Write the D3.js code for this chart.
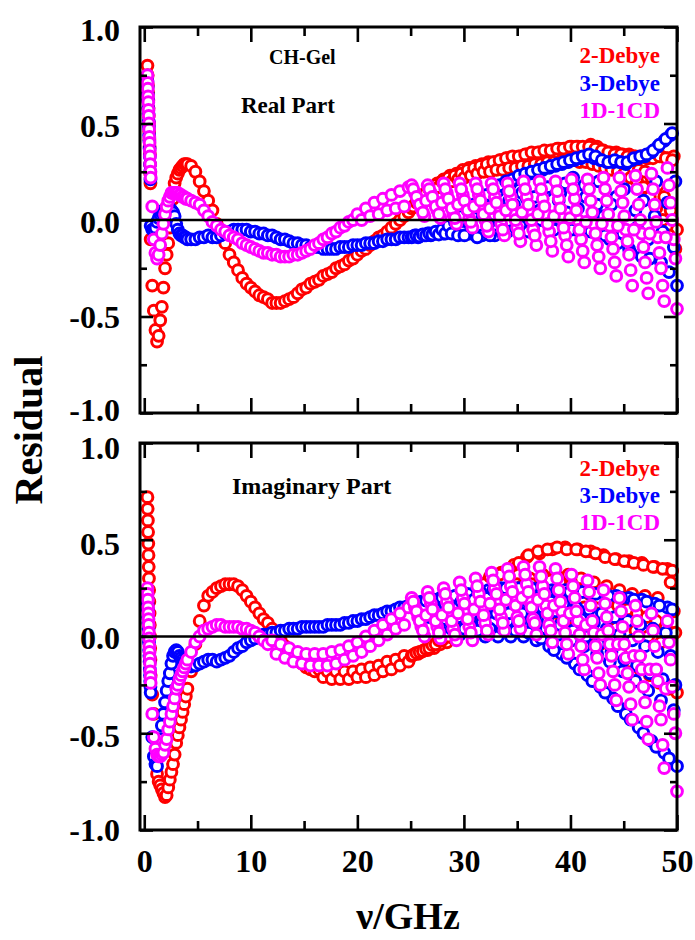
<!DOCTYPE html>
<html><head><meta charset="utf-8">
<script src="https://cdn.jsdelivr.net/npm/d3@7"></script>
<style>body{margin:0;background:#fff}svg{display:block}</style>
</head><body><svg id="c" width="695" height="940"></svg>
<script>
// ---------- DATA ----------
const freq = [
 0.30,0.32,0.34,0.36,0.38,0.40,0.42,0.44,0.46,0.48,0.50,0.52,0.54,0.56,0.58,0.60,
 0.75,0.90,1.05,1.20,1.35,1.50,1.65,1.80,1.95,2.10,2.25,2.40,2.55,2.70,2.85,3.00,3.15,3.30,3.45,3.60,3.75,3.90,4.05,
 4.4,4.8,5.2,5.6,6.0,6.4,6.8,7.2,7.6,8.0,
 8.4,8.8,9.2,9.6,10.0,10.4,10.8,11.2,11.6,12.0,
 12.4,12.8,13.2,13.6,14.0,14.4,14.8,15.2,15.6,16.0,
 16.4,16.8,17.2,17.6,18.0,18.4,18.8,19.2,19.6,20.0,
 20.4,20.8,21.2,21.6,22.0,22.4,22.8,23.2,23.6,24.0,
 24.4,24.8,
 25.1,25.4,25.7,26.0,26.3,26.6,26.9,27.2,27.5,27.8,
 28.1,28.4,28.7,29.0,29.3,29.6,29.9,30.2,30.5,30.8,
 31.1,31.4,31.7,32.0,32.3,32.6,32.9,33.2,33.5,33.8,
 34.1,34.4,34.7,35.0,35.3,35.6,35.9,36.2,36.5,36.8,
 37.1,37.4,37.7,38.0,38.3,38.6,38.9,39.2,39.5,39.8,
 40.1,40.4,40.7,41.0,41.3,41.6,41.9,42.2,42.5,42.8,
 43.1,43.4,43.7,44.0,44.3,44.6,44.9,45.2,45.5,45.8,
 46.1,46.4,46.7,47.0,47.3,47.6,47.9,48.2,48.5,48.8,
 49.1,49.4,49.7,50.0,
 25.25,25.55,25.85,26.15,26.45,26.75,27.05,27.35,27.65,27.95,
 28.25,28.55,28.85,29.15,29.45,29.75,30.05,30.35,30.65,30.95,
 31.25,31.55,31.85,32.15,32.45,32.75,33.05,33.35,33.65,33.95,
 34.25,34.55,34.85,35.15,35.45,35.75,36.05,36.35,36.65,36.95,
 37.25,37.55,37.85,38.15,38.45,38.75,39.05,39.35,39.65,39.95,
 40.25,40.55,40.85,41.15,41.45,41.75,42.05,42.35,42.65,42.95,
 43.25,43.55,43.85,44.15,44.45,44.75,45.05,45.35,45.65,45.95,
 46.25,46.55,46.85,47.15,47.45,47.75,48.05,48.35,48.65,48.95,
 49.25,49.55,49.85
];

// Real part residuals
const realRed = [
 0.80,0.75,0.70,0.66,0.62,0.58,0.54,0.50,0.46,0.42,0.38,0.34,0.29,0.24,0.19,-0.10,
 -0.34,-0.47,-0.57,-0.63,-0.60,-0.52,-0.45,-0.35,-0.25,-0.18,-0.12,-0.04,0.04,0.11,0.19,0.22,0.24,0.26,0.27,0.28,0.29,0.29,0.29,
 0.28,0.25,0.20,0.15,0.10,0.05,-0.02,-0.07,-0.12,-0.18,
 -0.22,-0.26,-0.30,-0.33,-0.35,-0.37,-0.39,-0.40,-0.41,-0.43,
 -0.43,-0.43,-0.42,-0.41,-0.40,-0.38,-0.36,-0.35,-0.33,-0.32,
 -0.31,-0.29,-0.28,-0.27,-0.25,-0.24,-0.23,-0.21,-0.20,-0.18,
 -0.16,-0.15,-0.13,-0.11,-0.09,-0.08,-0.06,-0.04,-0.02,0.00,
 0.02,0.04,
 0.06,0.08,0.10,0.12,0.13,0.15,0.16,0.17,0.19,0.19,
 0.21,0.21,0.23,0.22,0.24,0.23,0.26,0.24,0.27,0.25,
 0.28,0.26,0.29,0.26,0.30,0.27,0.30,0.28,0.31,0.27,
 0.32,0.28,0.32,0.29,0.33,0.29,0.34,0.30,0.34,0.31,
 0.35,0.30,0.35,0.31,0.36,0.32,0.37,0.31,0.37,0.32,
 0.38,0.33,0.38,0.32,0.37,0.33,0.39,0.32,0.38,0.31,
 0.36,0.30,0.35,0.30,0.35,0.29,0.34,0.28,0.34,0.27,
 0.33,0.26,0.33,0.25,0.32,0.22,0.33,0.18,0.33,0.12,
 0.32,0.05,0.33,-0.05,
 0.07,0.09,0.11,0.13,0.14,0.16,0.15,0.18,0.17,0.20,
 0.19,0.22,0.20,0.23,0.21,0.24,0.22,0.26,0.23,0.27,
 0.24,0.28,0.25,0.29,0.25,0.30,0.26,0.31,0.26,0.32,
 0.27,0.33,0.27,0.33,0.28,0.34,0.28,0.35,0.29,0.35,
 0.29,0.36,0.30,0.36,0.30,0.37,0.30,0.37,0.30,0.38,
 0.31,0.38,0.30,0.38,0.30,0.38,0.29,0.37,0.28,0.36,
 0.27,0.35,0.26,0.34,0.25,0.34,0.24,0.33,0.22,0.33,
 0.20,0.33,0.17,0.32,0.12,0.32,0.06,0.33,0.00,0.32,
 -0.08,0.31,-0.15
];
const realBlue = [
 0.72,0.69,0.65,0.62,0.58,0.55,0.51,0.48,0.44,0.41,0.37,0.33,0.29,0.25,0.21,-0.03,
 -0.05,-0.05,-0.04,-0.01,0.01,0.03,0.04,0.05,0.05,0.06,0.06,0.06,0.05,0.04,0.02,-0.02,-0.05,-0.07,-0.08,-0.08,-0.09,-0.09,-0.10,
 -0.10,-0.10,-0.09,-0.09,-0.08,-0.09,-0.09,-0.08,-0.07,-0.06,
 -0.05,-0.05,-0.05,-0.05,-0.06,-0.06,-0.07,-0.07,-0.08,-0.08,
 -0.09,-0.10,-0.10,-0.11,-0.12,-0.12,-0.13,-0.13,-0.14,-0.14,
 -0.14,-0.15,-0.15,-0.15,-0.15,-0.14,-0.14,-0.14,-0.13,-0.13,
 -0.13,-0.12,-0.12,-0.12,-0.11,-0.11,-0.10,-0.10,-0.10,-0.09,
 -0.09,-0.09,
 -0.09,-0.08,-0.09,-0.08,-0.08,-0.07,-0.08,-0.07,-0.07,-0.06,
 -0.07,-0.05,-0.06,-0.04,-0.06,-0.02,-0.06,0.00,-0.07,0.03,
 -0.08,0.06,-0.08,0.09,-0.02,0.12,-0.08,0.15,0.04,0.17,
 -0.06,0.19,0.08,0.21,-0.03,0.22,0.11,0.24,-0.05,0.25,
 0.05,0.26,0.15,0.27,-0.04,0.28,0.10,0.29,0.19,0.30,
 -0.05,0.31,0.06,0.32,0.18,0.33,-0.06,0.32,0.08,0.31,
 0.02,0.30,-0.10,0.30,0.12,0.30,-0.07,0.29,-0.15,0.31,
 0.05,0.32,-0.19,0.33,-0.10,0.35,0.02,0.38,-0.22,0.41,
 0.09,0.44,-0.14,-0.34,
 -0.085,-0.08,-0.085,-0.075,-0.08,-0.07,-0.075,-0.06,-0.075,-0.05,
 -0.07,-0.03,-0.07,-0.01,-0.08,0.02,-0.08,0.05,-0.02,0.08,
 -0.09,0.11,0.02,0.13,-0.08,0.16,0.07,0.18,-0.07,0.20,
 0.10,0.21,-0.04,0.23,0.14,0.24,-0.06,0.25,0.12,0.26,
 0.00,0.27,0.17,0.28,-0.05,0.29,0.14,0.30,0.04,0.31,
 0.22,0.32,-0.06,0.33,0.12,0.34,0.00,0.33,0.20,0.31,
 -0.08,0.30,0.08,0.31,-0.12,0.30,0.16,0.30,-0.17,0.32,
 -0.04,0.33,0.10,0.34,-0.20,0.36,0.20,0.39,-0.06,0.42,
 -0.27,0.45,0.20
];
const realMag = [
 0.75,0.71,0.68,0.64,0.61,0.57,0.54,0.50,0.47,0.43,0.40,0.36,0.33,0.29,0.25,0.22,
 0.07,-0.10,-0.17,-0.20,-0.18,-0.13,-0.07,-0.02,0.03,0.07,0.10,0.12,0.14,0.14,0.14,0.14,0.14,0.13,0.13,0.12,0.12,0.11,0.11,
 0.10,0.09,0.08,0.05,0.02,-0.01,-0.03,-0.05,-0.06,-0.08,
 -0.09,-0.10,-0.12,-0.13,-0.14,-0.15,-0.16,-0.17,-0.17,-0.18,
 -0.18,-0.19,-0.19,-0.19,-0.18,-0.18,-0.17,-0.16,-0.15,-0.13,
 -0.12,-0.10,-0.09,-0.07,-0.06,-0.04,-0.03,-0.01,0.00,0.03,
 0.00,0.06,0.02,0.09,0.03,0.11,0.05,0.13,0.06,0.15,
 0.07,0.17,
 0.18,0.14,0.10,0.06,0.02,0.18,0.14,0.10,0.05,0.01,
 0.19,0.14,0.09,0.03,-0.02,0.19,0.13,0.07,0.01,-0.04,
 0.19,0.13,0.06,0.00,-0.06,0.19,0.12,0.05,-0.02,-0.08,
 0.19,0.12,0.04,-0.04,-0.11,0.20,0.12,0.04,-0.05,-0.13,
 0.20,0.11,0.03,-0.06,-0.16,0.20,0.11,0.01,-0.08,-0.19,
 0.21,0.11,0.00,-0.10,-0.22,0.21,0.10,-0.02,-0.13,-0.25,
 0.22,0.10,-0.03,-0.15,-0.29,0.22,0.09,-0.05,-0.18,-0.34,
 0.23,0.08,-0.07,-0.22,-0.38,0.24,0.08,-0.09,-0.25,-0.42,
 0.27,0.09,-0.10,-0.46,
 0.16,0.12,0.08,0.04,0.10,0.16,0.12,0.07,0.03,0.09,
 0.16,0.11,0.06,0.01,0.08,0.16,0.10,0.05,-0.01,0.07,
 0.16,0.10,0.03,-0.03,0.06,0.16,0.09,0.02,-0.05,0.05,
 0.15,0.08,0.00,-0.07,0.04,0.16,0.08,0.00,-0.08,0.03,
 0.16,0.07,-0.02,-0.11,0.02,0.15,0.06,-0.04,-0.13,0.01,
 0.16,0.05,-0.05,-0.16,-0.01,0.16,0.04,-0.07,-0.19,-0.02,
 0.16,0.03,-0.09,-0.22,-0.03,0.15,0.02,-0.11,-0.26,-0.05,
 0.16,0.00,-0.14,-0.30,-0.07,0.16,-0.01,-0.17,-0.34,-0.09,
 0.18,0.00,-0.20
];

// Imaginary part residuals
const imagRed = [
 0.72,0.66,0.60,0.54,0.48,0.42,0.36,0.30,0.24,0.18,0.12,0.06,0.00,-0.06,-0.12,-0.20,
 -0.30,-0.40,-0.62,-0.71,-0.75,-0.77,-0.79,-0.81,-0.83,-0.82,-0.78,-0.74,-0.70,-0.66,-0.61,-0.55,-0.51,-0.47,-0.43,-0.39,-0.35,-0.31,-0.27,
 -0.18,-0.04,0.08,0.16,0.21,0.23,0.25,0.26,0.27,0.27,
 0.27,0.26,0.24,0.21,0.18,0.15,0.12,0.09,0.07,0.04,
 0.01,-0.02,-0.05,-0.08,-0.10,-0.12,-0.14,-0.16,-0.17,-0.18,
 -0.17,-0.21,-0.18,-0.22,-0.18,-0.22,-0.18,-0.22,-0.18,-0.21,
 -0.17,-0.21,-0.16,-0.20,-0.15,-0.18,-0.13,-0.17,-0.12,-0.15,
 -0.10,-0.13,
 -0.10,-0.09,-0.09,-0.08,-0.07,-0.07,-0.05,-0.06,-0.03,-0.04,
 0.00,-0.03,0.04,-0.01,0.08,0.01,0.13,0.06,0.18,0.03,
 0.22,0.10,0.26,0.06,0.29,0.20,0.13,0.08,0.33,0.24,
 0.15,0.09,0.37,0.27,0.18,0.11,0.41,0.30,0.20,0.12,
 0.43,0.32,0.21,0.11,0.45,0.33,0.21,0.09,0.46,0.32,
 0.19,0.05,0.45,0.30,0.15,0.00,0.44,0.28,0.12,-0.04,
 0.42,0.26,0.09,-0.08,0.40,0.24,0.06,-0.12,0.39,0.22,
 0.03,-0.16,0.38,0.21,0.00,-0.20,0.36,0.20,-0.03,-0.24,
 0.35,0.28,0.13,-0.29,
 -0.095,-0.085,-0.08,-0.075,-0.065,-0.06,-0.045,-0.04,-0.02,-0.02,
 0.02,0.00,0.06,0.02,0.10,0.04,0.15,0.08,0.20,0.12,
 0.24,0.16,0.27,0.18,0.31,0.17,0.11,0.32,0.20,0.12,
 0.35,0.23,0.14,0.38,0.26,0.15,0.42,0.27,0.16,0.44,
 0.28,0.15,0.45,0.29,0.14,0.46,0.28,0.12,0.45,0.26,
 0.10,0.45,0.24,0.06,0.44,0.22,0.03,0.43,0.20,-0.01,
 0.41,0.18,-0.05,0.40,0.16,-0.09,0.39,0.14,-0.13,0.38,
 0.12,-0.17,0.37,0.10,-0.20,0.36,0.08,-0.24,0.35,0.05,
 -0.27,0.34,0.02
];
const imagBlue = [
 0.20,0.17,0.14,0.10,0.07,0.04,0.00,-0.03,-0.07,-0.10,-0.13,-0.17,-0.20,-0.23,-0.26,-0.29,
 -0.52,-0.62,-0.66,-0.67,-0.60,-0.53,-0.46,-0.40,-0.34,-0.28,-0.23,-0.19,-0.14,-0.10,-0.08,-0.07,-0.08,-0.10,-0.11,-0.12,-0.13,-0.14,-0.15,
 -0.155,-0.15,-0.14,-0.13,-0.12,-0.12,-0.13,-0.12,-0.11,-0.10,
 -0.08,-0.06,-0.05,-0.03,-0.02,-0.01,0.00,0.01,0.01,0.02,
 0.02,0.03,0.03,0.04,0.04,0.04,0.05,0.05,0.05,0.05,
 0.05,0.05,0.06,0.06,0.06,0.06,0.07,0.07,0.08,0.08,
 0.09,0.09,0.10,0.11,0.11,0.12,0.13,0.13,0.14,0.15,
 0.15,0.16,
 0.16,0.17,0.17,0.18,0.18,0.19,0.12,0.19,0.08,0.20,
 0.05,0.21,0.13,0.03,0.21,0.01,0.22,0.14,0.07,0.00,
 0.23,0.15,0.07,0.00,0.24,0.16,0.08,0.00,0.25,0.17,
 0.08,0.00,0.25,0.17,0.08,0.00,0.25,0.16,0.06,-0.02,
 0.25,0.15,0.04,-0.05,0.24,0.13,0.01,-0.09,0.24,0.11,
 -0.02,-0.14,0.23,0.09,-0.05,-0.20,0.22,0.07,-0.09,-0.26,
 0.22,0.04,-0.13,-0.32,0.21,0.01,-0.18,-0.40,0.20,-0.02,
 -0.23,-0.47,0.19,-0.05,-0.28,-0.54,0.17,-0.08,-0.33,-0.60,
 0.15,-0.10,-0.38,-0.67,
 0.165,0.17,0.175,0.15,0.185,0.10,0.19,0.14,0.06,0.20,
 0.09,0.17,0.04,0.21,0.10,0.18,0.04,0.22,0.11,0.19,
 0.03,0.23,0.11,0.20,0.04,0.24,0.12,0.21,0.04,0.25,
 0.12,0.21,0.03,0.25,0.12,0.20,0.02,0.25,0.10,0.19,
 -0.01,0.24,0.08,0.18,-0.07,0.24,0.06,0.17,-0.11,0.23,
 0.03,0.15,-0.17,0.23,0.00,0.14,-0.23,0.22,-0.04,0.12,
 -0.29,0.21,-0.08,0.10,-0.36,0.20,-0.12,0.08,-0.43,0.19,
 -0.15,0.06,-0.50,0.18,-0.19,0.04,-0.57,0.16,-0.22,0.02,
 -0.63,0.14,-0.25
];
const imagMag = [
 0.25,0.22,0.19,0.15,0.12,0.09,0.06,0.02,-0.01,-0.05,-0.08,-0.11,-0.14,-0.18,-0.21,-0.24,
 -0.40,-0.52,-0.58,-0.61,-0.62,-0.62,-0.61,-0.60,-0.56,-0.53,-0.48,-0.44,-0.40,-0.36,-0.32,-0.27,-0.25,-0.22,-0.20,-0.18,-0.16,-0.14,-0.12,
 -0.08,-0.03,0.00,0.03,0.04,0.05,0.06,0.06,0.05,0.05,
 0.05,0.05,0.04,0.04,0.03,0.02,0.00,-0.02,-0.04,-0.02,
 -0.09,-0.04,-0.11,-0.06,-0.13,-0.08,-0.14,-0.09,-0.15,-0.09,
 -0.15,-0.09,-0.15,-0.08,-0.14,-0.07,-0.12,-0.05,-0.10,-0.03,
 -0.08,0.00,-0.05,0.03,-0.02,0.06,0.01,0.09,0.04,0.12,
 0.06,0.15,
 0.20,0.15,0.10,0.05,0.00,0.23,0.17,0.11,0.05,-0.01,
 0.25,0.18,0.11,0.04,-0.02,0.28,0.20,0.12,0.05,-0.02,
 0.30,0.22,0.14,0.07,0.01,0.33,0.25,0.17,0.10,0.03,
 0.35,0.26,0.18,0.10,0.04,0.36,0.27,0.18,0.09,0.01,
 0.36,0.26,0.16,0.06,-0.03,0.35,0.24,0.13,0.02,-0.09,
 0.32,0.20,0.08,-0.05,-0.17,0.29,0.16,0.02,-0.11,-0.25,
 0.24,0.10,-0.04,-0.18,-0.33,0.20,0.05,-0.11,-0.26,-0.43,
 0.16,0.00,-0.17,-0.34,-0.53,0.12,-0.05,-0.23,-0.43,-0.68,
 0.08,-0.12,-0.40,-0.80,
 0.18,0.13,0.08,0.03,0.11,0.20,0.14,0.08,0.02,0.11,
 0.22,0.15,0.08,0.01,0.12,0.24,0.17,0.09,0.02,0.14,
 0.26,0.18,0.11,0.03,0.17,0.29,0.22,0.14,0.07,0.19,
 0.31,0.23,0.16,0.08,0.20,0.32,0.23,0.15,0.07,0.19,
 0.31,0.22,0.12,0.03,0.16,0.30,0.18,0.08,-0.04,0.12,
 0.26,0.13,0.01,-0.12,0.06,0.23,0.08,-0.05,-0.19,0.01,
 0.17,0.03,-0.10,-0.25,-0.04,0.13,-0.04,-0.19,-0.35,-0.10,
 0.08,-0.10,-0.26,-0.44,-0.17,0.03,-0.17,-0.36,-0.56,-0.27,
 -0.03,-0.26,-0.50
];

const seriesNames = ["2-Debye","3-Debye","1D-1CD"];
const seriesColors = ["#ff0000","#0000ff","#ff00ff"];
const yTicks = [-1.0,-0.5,0.0,0.5,1.0];
const yMinor = [-0.75,-0.25,0.25,0.75];
const xTicks = [0,10,20,30,40,50];
const xMinor = [5,15,25,35,45];
const panelTitles = ["Real Part","Imaginary Part"];
const sampleName = "CH-Gel";
const xTitle = "\u03BD/GHz";
const yTitle = "Residual";

// ---------- DRAW ----------
const FONT = "'Liberation Serif','Times New Roman',Times,serif";
const svg = d3.select("#c");
const L = 140, R = 677;
const x = d3.scaleLinear().domain([-0.4, 50]).range([L, R]);

const panels = [
  {top:27, bottom:413, vals:[realRed,realBlue,realMag], title:panelTitles[0], tx:241, ty:113, tsize:23, note:true, legY:[63,91,118], labels:false,
   labShift:{"1":3,"0.5":3,"0":2,"-0.5":1,"-1":-3}},
  {top:443, bottom:830, vals:[imagRed,imagBlue,imagMag], title:panelTitles[1], tx:232, ty:494, tsize:24, note:false, legY:[476,503,530], labels:true,
   labShift:{"1":5,"0.5":4,"0":2,"-0.5":3,"-1":0}}
];

function styleAxis(g){
  g.select(".domain").remove();
  g.selectAll(".tick line").attr("stroke","#000").attr("stroke-width",2.6);
  g.selectAll(".tick text").attr("fill","#000").style("font-family",FONT)
    .style("font-weight","bold").style("font-size","32px");
}

panels.forEach(p => {
  const y = d3.scaleLinear().domain([-1, 1]).range([p.bottom, p.top]);
  const g = svg.append("g");

  // markers
  p.vals.forEach((vals, si) => {
    const n = Math.min(freq.length, vals.length);
    const pts = d3.range(n).map(i => [freq[i], vals[i]]);
    g.append("g").selectAll("circle").data(pts).join("circle")
      .attr("cx", d => x(d[0])).attr("cy", d => y(d[1])).attr("r", 5.4)
      .attr("fill", "#fff").attr("stroke", seriesColors[si]).attr("stroke-width", 3.0);
  });

  // zero line
  g.append("line").attr("x1", L).attr("x2", R).attr("y1", y(0)).attr("y2", y(0))
    .attr("stroke", "#000").attr("stroke-width", 2.5);

  // axes (inward ticks on all four sides)
  g.append("g").attr("transform", `translate(${L},0)`)
    .call(d3.axisLeft(y).tickValues(yTicks).tickSizeInner(-13).tickSizeOuter(0).tickPadding(20).tickFormat(d => d.toFixed(1)))
    .call(styleAxis)
    .call(a => a.selectAll(".tick text").attr("y", d => p.labShift[String(d)] || 0));
  g.append("g").attr("transform", `translate(${L},0)`)
    .call(d3.axisLeft(y).tickValues(yMinor).tickSizeInner(-7).tickSizeOuter(0).tickFormat(""))
    .call(styleAxis);
  g.append("g").attr("transform", `translate(${R},0)`)
    .call(d3.axisRight(y).tickValues(yTicks).tickSizeInner(-13).tickSizeOuter(0).tickFormat(""))
    .call(styleAxis);
  g.append("g").attr("transform", `translate(${R},0)`)
    .call(d3.axisRight(y).tickValues(yMinor).tickSizeInner(-7).tickSizeOuter(0).tickFormat(""))
    .call(styleAxis);
  g.append("g").attr("transform", `translate(0,${p.top})`)
    .call(d3.axisTop(x).tickValues(xTicks).tickSizeInner(-15).tickSizeOuter(0).tickFormat(""))
    .call(styleAxis);
  g.append("g").attr("transform", `translate(0,${p.top})`)
    .call(d3.axisTop(x).tickValues(xMinor).tickSizeInner(-9).tickSizeOuter(0).tickFormat(""))
    .call(styleAxis);
  g.append("g").attr("transform", `translate(0,${p.bottom})`)
    .call(d3.axisBottom(x).tickValues(xTicks).tickSizeInner(-15).tickSizeOuter(0).tickPadding(19)
      .tickFormat(p.labels ? (d => String(d)) : ""))
    .call(styleAxis);
  g.append("g").attr("transform", `translate(0,${p.bottom})`)
    .call(d3.axisBottom(x).tickValues(xMinor).tickSizeInner(-9).tickSizeOuter(0).tickFormat(""))
    .call(styleAxis);

  // frame
  g.append("rect").attr("x", L).attr("y", p.top).attr("width", R - L).attr("height", p.bottom - p.top)
    .attr("fill", "none").attr("stroke", "#000").attr("stroke-width", 3);

  // panel texts
  if (p.note) {
    g.append("text").attr("x", 269).attr("y", 64).text(sampleName)
      .style("font-family", FONT).style("font-weight", "bold").style("font-size", "20px");
  }
  g.append("text").attr("x", p.tx).attr("y", p.ty).text(p.title)
    .style("font-family", FONT).style("font-weight", "bold").style("font-size", p.tsize + "px");

  // legend
  seriesNames.forEach((name, si) => {
    g.append("text").attr("x", 660).attr("y", p.legY[si]).attr("text-anchor", "end")
      .attr("fill", seriesColors[si]).text(name)
      .style("font-family", FONT).style("font-weight", "bold").style("font-size", "23px");
  });
});

// axis titles
svg.append("text").attr("transform", "translate(42,430) rotate(-90)").attr("text-anchor", "middle")
  .text(yTitle).style("font-family", FONT).style("font-weight", "bold").style("font-size", "40px");
svg.append("text").attr("x", 408).attr("y", 929).attr("text-anchor", "middle")
  .text(xTitle).style("font-family", FONT).style("font-weight", "bold").style("font-size", "38px");
</script>
</body></html>
